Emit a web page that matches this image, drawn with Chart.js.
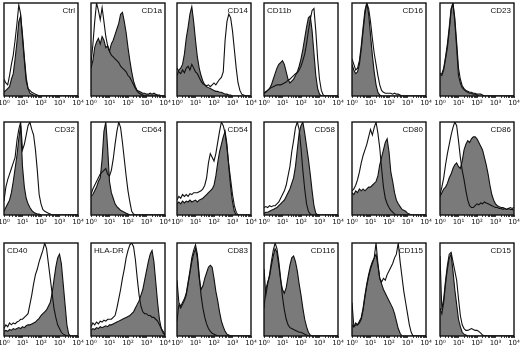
<!DOCTYPE html>
<html>
<head>
<meta charset="utf-8">
<script src="https://cdn.jsdelivr.net/npm/chart.js@4.4.1/dist/chart.umd.min.js"></script>
<style>
  html, body { margin: 0; padding: 0; background: #fff; }
  #fig { position: relative; width: 520px; height: 349px; overflow: hidden; }
  #fig canvas { position: absolute; }
</style>
</head>
<body>
<div id="fig"></div>
<script>
// log10 fluorescence bins, one per 0.1 decade
const BINS = [0, 0.1, 0.2, 0.3, 0.4, 0.5, 0.6, 0.7, 0.8, 0.9,
  1, 1.1, 1.2, 1.3, 1.4, 1.5, 1.6, 1.7, 1.8, 1.9,
  2, 2.1, 2.2, 2.3, 2.4, 2.5, 2.6, 2.7, 2.8, 2.9,
  3, 3.1, 3.2, 3.3, 3.4, 3.5, 3.6, 3.7, 3.8, 3.9, 4];
const DECADE_LABELS = ['10⁰', '10¹', '10²', '10³', '10⁴'];
const PANEL_NAMES = ['Ctrl', 'CD1a', 'CD14', 'CD11b', 'CD16', 'CD23',
  'CD32', 'CD64', 'CD54', 'CD58', 'CD80', 'CD86',
  'CD40', 'HLA-DR', 'CD83', 'CD116', 'CD115', 'CD15'];
const NAME_LEFT = ['CD11b', 'CD40', 'HLA-DR'];

// counts (% of panel height), filled = gray histogram, open = outline
const ctrlFill = [4,6,8,10,18,24,40,58,80,86, 66,42,20,8,3,2,1,0,0,0, 0,0,0,0,0,0,0,0,0,0, 0,0,0,0,0,0,0,0,0,0, 0];
const ctrlOpen = [18,14,12,22,34,44,60,78,98,88, 62,38,16,8,6,4,3,2,1,0, 0,0,0,0,0,0,0,0,0,0, 0,0,0,0,0,0,0,0,0,0, 0];
const cd1aFill = [30,38,52,58,62,56,64,60,52,54, 48,56,60,66,72,78,88,90,80,68, 52,38,26,16,10,6,5,4,3,3, 2,2,3,2,3,2,1,1,0,0, 0];
const cd1aOpen = [35,55,80,100,92,82,95,80,64,54, 48,44,42,40,38,36,32,30,28,26, 22,20,16,12,8,5,3,2,1,0, 0,0,0,0,0,0,0,0,0,0, 0];
const cd14Fill = [22,28,30,34,45,62,74,88,96,80, 60,42,30,22,16,12,10,9,8,7, 6,5,5,4,4,3,2,2,1,1, 0,0,0,0,0,0,0,0,0,0, 0];
const cd14Open = [30,26,24,28,25,30,32,28,34,30, 26,24,20,16,13,12,11,12,10,12, 14,12,15,18,20,26,60,80,88,84, 70,50,30,14,6,2,1,0,0,0, 0];
const cd11bFill = [3,4,6,8,12,18,24,30,34,36, 38,34,26,18,14,16,18,22,26,32, 40,50,62,74,84,86,70,46,22,8, 2,0,0,0,0,0,0,0,0,0, 0];
const cd11bOpen = [3,5,6,8,9,10,11,12,12,12, 13,14,15,17,18,20,22,24,25,28, 32,38,45,56,70,82,92,94,70,40, 18,6,1,0,0,0,0,0,0,0, 0];
const cd16Fill = [34,28,24,26,34,50,70,88,100,88, 66,44,26,12,4,1,0,0,0,0, 0,0,0,0,0,0,0,0,0,0, 0,0,0,0,0,0,0,0,0,0, 0];
const cd16Open = [40,34,28,30,38,54,74,92,100,94, 80,62,46,34,22,12,6,4,3,3, 3,3,2,3,2,2,1,0,0,0, 0,0,0,0,0,0,0,0,0,0, 0];
const cd23Fill = [24,22,28,40,52,70,92,100,80,52, 22,14,9,7,5,4,3,3,2,2, 1,0,0,0,0,0,0,0,0,0, 0,0,0,0,0,0,0,0,0,0, 0];
const cd23Open = [24,24,30,42,56,74,94,100,84,58, 30,18,11,8,6,5,4,4,3,3, 2,2,2,1,0,0,0,0,0,0, 0,0,0,0,0,0,0,0,0,0, 0];
const cd32Fill = [4,8,12,16,24,36,50,64,82,96, 52,30,18,12,8,5,3,2,1,1, 0,0,0,0,0,0,0,0,0,0, 0,0,0,0,0,0,0,0,0,0, 0];
const cd32Open = [15,30,38,44,50,56,62,80,92,100, 70,76,86,96,100,92,86,70,48,22, 12,6,4,3,2,1,0,0,0,0, 0,0,0,0,0,0,0,0,0,0, 0];
const cd64Fill = [20,22,26,30,36,40,60,90,100,72, 36,24,18,12,9,7,5,4,3,2, 1,0,0,0,0,0,0,0,0,0, 0,0,0,0,0,0,0,0,0,0, 0];
const cd64Open = [22,28,32,36,40,44,46,48,50,44, 42,48,60,76,90,100,94,78,60,42, 26,14,4,1,0,0,0,0,0,0, 0,0,0,0,0,0,0,0,0,0, 0];
const cd54Fill = [12,14,12,15,13,15,14,16,14,15, 16,14,16,17,18,20,22,24,26,28, 32,42,56,68,76,84,90,76,52,30, 14,4,0,0,0,0,0,0,0,0, 0];
const cd54Open = [16,20,18,22,20,22,20,23,22,24, 24,24,25,26,28,32,40,56,66,62, 58,66,78,90,100,96,88,72,54,38, 22,10,3,0,0,0,0,0,0,0, 0];
const cd58Fill = [2,3,3,4,5,6,7,8,10,12, 14,16,20,24,28,34,40,52,70,88, 96,100,88,74,60,44,26,10,2,0, 0,0,0,0,0,0,0,0,0,0, 0];
const cd58Open = [8,9,8,10,9,10,10,12,14,18, 22,26,32,42,52,68,80,94,100,92, 72,48,28,12,4,1,0,0,0,0, 0,0,0,0,0,0,0,0,0,0, 0];
const cd80Fill = [24,22,26,24,28,26,28,26,28,30, 30,32,34,36,42,54,62,70,78,82, 68,46,36,24,16,12,9,6,5,4, 2,1,0,0,0,0,0,0,0,0, 0];
const cd80Open = [26,28,32,38,46,56,64,70,76,84, 92,86,94,100,88,72,50,30,18,12, 8,5,3,1,0,0,0,0,0,0, 0,0,0,0,0,0,0,0,0,0, 0];
const cd86Fill = [20,24,28,30,34,40,44,50,54,56, 52,50,58,70,76,80,78,82,84,84, 82,78,74,70,62,54,44,32,22,16, 12,10,9,8,8,7,6,7,6,6, 5];
const cd86Open = [22,30,40,54,66,76,86,94,100,96, 80,62,48,38,26,16,10,8,8,10, 12,11,13,12,14,13,12,11,10,9, 8,8,7,7,6,7,6,7,8,7, 8];
const cd40Fill = [5,6,5,7,6,8,7,8,9,8, 10,9,11,12,12,13,14,15,17,19, 22,24,26,28,32,36,46,60,74,84, 88,78,56,34,12,2,0,0,0,0, 0];
const cd40Open = [8,12,10,14,12,14,13,15,16,18, 18,20,22,24,34,44,56,66,72,80, 86,92,100,94,78,62,46,30,20,12, 8,4,2,1,0,0,0,0,0,0, 0];
const hladrFill = [6,8,7,9,8,10,9,10,11,10, 12,12,13,14,15,16,17,18,19,20, 21,22,24,26,30,34,38,44,50,60, 70,80,88,92,80,58,36,18,8,3, 1];
const hladrOpen = [10,14,12,15,13,16,15,17,16,18, 18,18,20,22,30,40,50,62,72,84, 92,98,100,96,82,62,44,32,26,24, 24,22,22,20,20,18,16,12,8,5, 2];
const cd83Fill = [16,34,30,34,38,44,56,68,80,88, 94,84,62,50,54,62,68,74,76,74, 62,48,38,26,16,10,5,2,1,0, 0,0,0,0,0,0,0,0,0,0, 0];
const cd83Open = [60,36,32,36,40,46,58,70,84,92, 98,88,66,44,30,20,13,8,5,3, 2,1,0,0,0,0,0,0,0,0, 0,0,0,0,0,0,0,0,0,0, 0];
const cd116Fill = [30,50,58,64,76,86,94,90,76,60, 50,46,52,64,76,84,86,80,70,56, 44,30,18,10,4,1,0,0,0,0, 0,0,0,0,0,0,0,0,0,0, 0];
const cd116Open = [72,44,56,66,80,92,100,94,80,62, 42,28,18,12,9,8,7,6,5,4, 4,3,2,1,0,0,0,0,0,0, 0,0,0,0,0,0,0,0,0,0, 0];
const cd115Fill = [12,10,14,12,16,20,30,44,56,66, 74,80,84,88,76,62,56,50,46,42, 38,34,30,24,16,8,3,0,0,0, 0,0,0,0,0,0,0,0,0,0, 0];
const cd115Open = [36,10,12,12,14,18,28,42,54,64, 72,78,84,100,78,62,58,62,60,66, 70,74,78,84,88,100,80,64,48,36, 24,12,4,0,0,0,0,0,0,0, 0];
const cd15Fill = [30,24,36,56,72,84,88,70,50,34, 18,10,4,2,1,0,0,0,0,0, 0,0,0,0,0,0,0,0,0,0, 0,0,0,0,0,0,0,0,0,0, 0];
const cd15Open = [86,28,40,60,76,88,90,80,70,60, 40,22,12,8,6,6,7,8,7,6, 6,5,3,1,0,0,0,0,0,0, 0,0,0,0,0,0,0,0,0,0, 0];

const FILLED = [ctrlFill, cd1aFill, cd14Fill, cd11bFill, cd16Fill, cd23Fill,
  cd32Fill, cd64Fill, cd54Fill, cd58Fill, cd80Fill, cd86Fill,
  cd40Fill, hladrFill, cd83Fill, cd116Fill, cd115Fill, cd15Fill];
const OPEN = [ctrlOpen, cd1aOpen, cd14Open, cd11bOpen, cd16Open, cd23Open,
  cd32Open, cd64Open, cd54Open, cd58Open, cd80Open, cd86Open,
  cd40Open, hladrOpen, cd83Open, cd116Open, cd115Open, cd15Open];

// layout
const COL_X = [4, 91, 177, 264, 352, 440];
const ROW_Y = [3, 122, 243];
const BOX_W = 74, BOX_H = 93;
const PAD_X = 8, PAD_TOP = 2, AXIS_H = 13;

const boxPlugin = {
  id: 'box',
  afterDatasetsDraw(chart, args, opts) {
    const { ctx, chartArea: a } = chart;
    ctx.save();
    ctx.strokeStyle = '#111';
    ctx.lineWidth = 1.4;
    ctx.strokeRect(a.left, a.top, a.right - a.left, a.bottom - a.top);
    ctx.font = '8px "Liberation Sans", Arial, sans-serif';
    ctx.fillStyle = '#111';
    if (opts.left) {
      ctx.textAlign = 'left';
      ctx.fillText(opts.name, a.left + 3, a.top + 10);
    } else {
      ctx.textAlign = 'right';
      ctx.fillText(opts.name, a.right - 3, a.top + 10);
    }
    ctx.restore();
  }
};

const toPts = (vals) => BINS.map((x, i) => ({ x, y: vals[i] }));

const fig = document.getElementById('fig');

PANEL_NAMES.forEach((name, i) => {
  const cv = document.createElement('canvas');
  cv.width = BOX_W + 2 * PAD_X;
  cv.height = BOX_H + PAD_TOP + AXIS_H;
  cv.style.left = (COL_X[i % 6] - PAD_X) + 'px';
  cv.style.top = (ROW_Y[Math.floor(i / 6)] - PAD_TOP) + 'px';
  fig.appendChild(cv);

  new Chart(cv, {
    type: 'line',
    data: {
      datasets: [
        { data: toPts(OPEN[i]), borderColor: '#111', borderWidth: 1.1, fill: false, pointRadius: 0, tension: 0 },
        { data: toPts(FILLED[i]), borderColor: '#111', borderWidth: 1.1, backgroundColor: '#7a7a7a', fill: 'origin', pointRadius: 0, tension: 0 },
      ],
    },
    options: {
      responsive: false,
      animation: false,
      devicePixelRatio: 1,
      events: [],
      layout: { padding: { left: PAD_X, right: PAD_X, top: PAD_TOP, bottom: 0 } },
      plugins: {
        legend: { display: false },
        tooltip: { enabled: false },
        box: { name, left: NAME_LEFT.includes(name) },
      },
      scales: {
        x: {
          type: 'linear', min: 0, max: 4,
          border: { display: false },
          grid: { drawOnChartArea: false, drawTicks: true, tickLength: 2, tickColor: '#111', tickWidth: 0.8 },
          afterBuildTicks: (scale) => {
            const t = [];
            for (let d = 0; d <= 4; d++) {
              t.push({ value: d });
              if (d < 4) for (let m = 2; m <= 9; m++) t.push({ value: d + Math.log10(m) });
            }
            scale.ticks = t;
          },
          afterFit: (scale) => { scale.height = AXIS_H; },
          ticks: {
            autoSkip: false, maxRotation: 0, padding: 1, color: '#111',
            font: { size: 7, family: '"DejaVu Sans", sans-serif' },
            callback: (v) => (Number.isInteger(v) ? DECADE_LABELS[v] : ''),
          },
        },
        y: { display: false, min: 0, max: 100 },
      },
    },
    plugins: [boxPlugin],
  });
});
</script>
</body>
</html>
